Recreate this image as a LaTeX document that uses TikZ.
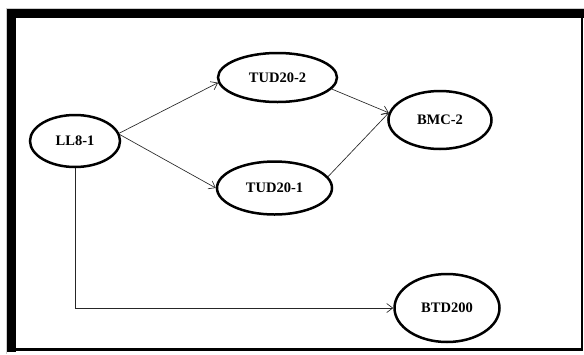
\documentclass[tikz,border=0pt]{standalone}
\usepackage{fontspec}
\setmainfont{Liberation Serif}
\usetikzlibrary{shapes.geometric,arrows.meta}
\begin{document}
\begin{tikzpicture}[x=1pt,y=-1pt,
  oval/.style={ellipse,draw=black,line width=2.5pt,inner sep=0pt,font=\fontsize{14.5}{15}\selectfont\bfseries},
  conn/.style={line width=0.65pt,draw=black!85,-{Straight Barb[length=6pt,width=9pt]}}]
\useasboundingbox (0,0) rectangle (584,354);
\fill[white] (0,0) rectangle (584,354);
% frame
\draw[gray!40,line width=1pt] (6,354) -- (6,8.5) -- (584,8.5);
\fill[black] (7,9) rectangle (584,18);
\fill[black] (7,9) rectangle (16,352);
\fill[black] (580.5,9) rectangle (583,351);
\fill[black] (7,348) rectangle (583,351);
% nodes
\node[oval,minimum width=90pt,minimum height=52pt] (ll) at (75,141) {LL8-1};
\node[oval,minimum width=119pt,minimum height=49pt] (tud2) at (277.5,77.5) {TUD20-2};
\node[oval,minimum width=115pt,minimum height=53pt] (tud1) at (274.5,188) {TUD20-1};
\node[oval,minimum width=103pt,minimum height=58pt] (bmc) at (440,120) {BMC-2};
\node[oval,minimum width=105pt,minimum height=68pt] (btd) at (447,308) {BTD200};
% connectors
\draw[conn] (ll.10) -- (tud2.185);
\draw[conn] (ll.8) -- (tud1.west);
\draw[conn] (tud2.-12) -- (bmc.172);
\draw[conn] (tud1.12) -- (bmc.172);
\draw[conn] (ll.south) |- (btd.west);
\end{tikzpicture}
\end{document}
